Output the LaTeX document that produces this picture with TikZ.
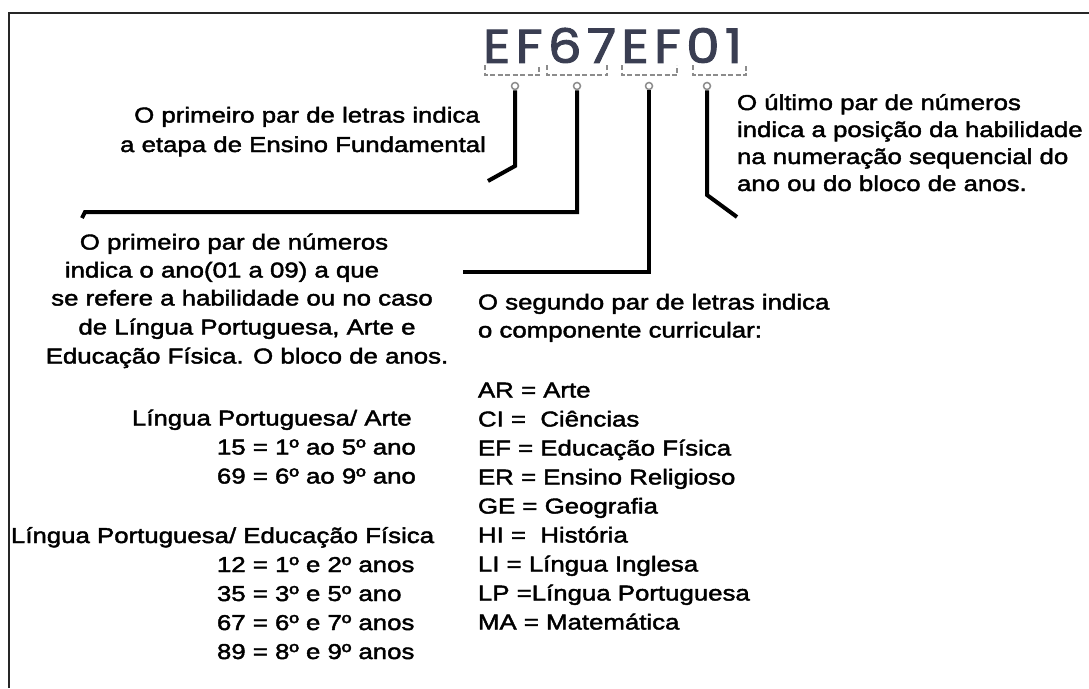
\documentclass[tikz,border=0pt]{standalone}
\usepackage{fontspec}
\setmainfont{Liberation Sans}[FakeStretch=1.2,FakeBold=2]
\newfontfamily\titlefont{Poppins}[FakeBold=2]
\definecolor{titlecol}{RGB}{58,62,82}
\definecolor{brk}{RGB}{140,140,140}
\begin{document}
\begin{tikzpicture}[x=1pt,y=-1pt,
  txt/.style={inner sep=0pt, outer sep=0pt, font=\fontsize{21.5}{27}\selectfont, anchor=base west},
  ctxt/.style={txt, anchor=base},
  conn/.style={line width=4pt, black, line join=miter},
  dot/.style={circle, draw=brk, fill=white, line width=1.5pt, minimum size=7pt, inner sep=0pt},
  bracket/.style={draw=brk, line width=1.3pt, dash pattern=on 5pt off 2.5pt},
  frame/.style={line width=2.6pt, black!85}
]
\useasboundingbox (0,0) rectangle (1089,688);
\draw[frame] (9,688) -- (9,13) -- (1089,13);

% code
\node[inner sep=0pt, outer sep=0pt, anchor=south west, text=titlecol] (title) at (483,63)
  {\resizebox{259pt}{35pt}{\titlefont E\kern1pt F\kern1pt 6\kern1pt 7\kern1pt E\kern1pt F\kern1pt 0\kern1pt 1}};
\draw[bracket] (485,65) -- (485,75) -- (539,75) -- (539,65);
\draw[bracket] (547,65) -- (547,75) -- (607,75) -- (607,65);
\draw[bracket] (622,65) -- (622,75) -- (677,75) -- (677,65);
\draw[bracket] (693,65) -- (693,75) -- (746,75) -- (746,65);
\node[dot] (d1) at (515,86) {};
\node[dot] (d2) at (577,86) {};
\node[dot] (d3) at (649,86) {};
\node[dot] (d4) at (707,86) {};

% connectors
\coordinate (k1) at (515,166); \coordinate (e1) at (488,181);
\draw[conn] (d1.south) -- (k1) -- (e1);
\coordinate (k2) at (577,212); \coordinate (e2) at (85,212); \coordinate (t2) at (82,218);
\draw[conn] (d2.south) -- (k2) -- (e2) -- (t2);
\coordinate (k3) at (649,272); \coordinate (e3) at (463,272);
\draw[conn] (d3.south) -- (k3) -- (e3);
\coordinate (k4) at (707,195); \coordinate (e4) at (737,217);
\draw[conn] (d4.south) -- (k4) -- (e4);

% block A
\node[ctxt] (a1) at (307,122.5) {O primeiro par de letras indica};
\node[ctxt] (a2) at (303,152) {a etapa de Ensino Fundamental};

% block B
\node[txt] (b1) at (737,110) {O último par de números};
\node[txt] (b2) at (737,137) {indica a posição da habilidade};
\node[txt] (b3) at (737,164) {na numeração sequencial do};
\node[txt] (b4) at (737,191) {ano ou do bloco de anos.};

% block C
\node[ctxt] (c1) at (234,249.5) {O primeiro par de números};
\node[ctxt] (c2) at (222,277.5) {indica o ano(01 a 09) a que};
\node[ctxt] (c3) at (242,305.5) {se refere a habilidade ou no caso};
\node[ctxt] (c4) at (247,334.5) {de Língua Portuguesa, Arte e};
\node[ctxt] (c5) at (247,363.5) {Educação Física. O bloco de anos.};

% block D
\node[txt] (d1t) at (132,425.5) {Língua Portuguesa/ Arte};
\node[txt] (d2t) at (217,454.5) {15 = 1º ao 5º ano};
\node[txt] (d3t) at (217,483.5) {69 = 6º ao 9º ano};

% block E
\node[txt] (e1t) at (11,543) {Língua Portuguesa/ Educação Física};
\node[txt] (e2t) at (217,572) {12 = 1º e 2º anos};
\node[txt] (e3t) at (217,601) {35 = 3º e 5º ano};
\node[txt] (e4t) at (217,630) {67 = 6º e 7º anos};
\node[txt] (e5t) at (217,659) {89 = 8º e 9º anos};

% block F
\node[txt] (f1) at (478,309.5) {O segundo par de letras indica};
\node[txt] (f2) at (478,337.5) {o componente curricular:};

% block G
\node[txt] (g1) at (478,397.5) {AR = Arte};
\node[txt] (g2) at (478,426.5) {CI = \ Ciências};
\node[txt] (g3) at (478,455.5) {EF = Educação Física};
\node[txt] (g4) at (478,484.5) {ER = Ensino Religioso};
\node[txt] (g5) at (478,513.5) {GE = Geografia};
\node[txt] (g6) at (478,542.5) {HI = \ História};
\node[txt] (g7) at (478,571.5) {LI = Língua Inglesa};
\node[txt] (g8) at (478,600.5) {LP =Língua Portuguesa};
\node[txt] (g9) at (478,629.5) {MA = Matemática};
\end{tikzpicture}
\end{document}
